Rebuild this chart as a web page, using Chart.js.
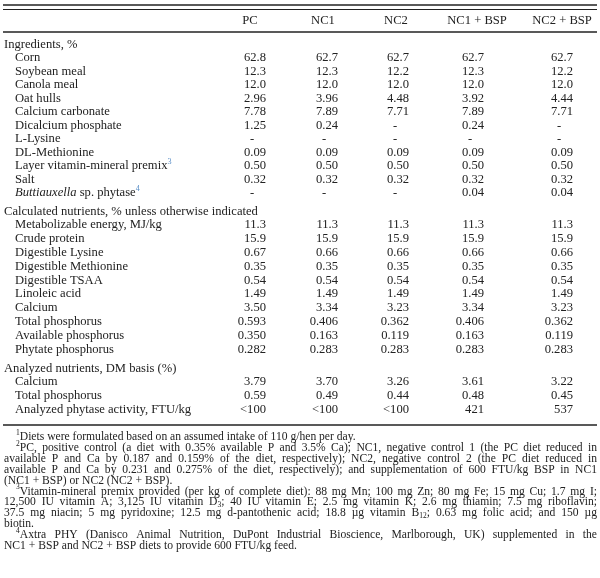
<!DOCTYPE html>
<html>
<head>
<meta charset="utf-8">
<script src="https://cdn.jsdelivr.net/npm/chart.js@4"></script>
<style>
  body { margin: 0; background: #fff; }
  #wrap { width: 600px; height: 578px; }
</style>
</head>
<body>
<div id="wrap"><canvas id="tabela"></canvas></div>
<script>
// colunas da tabela
const colunas = ['PC', 'NC1', 'NC2', 'NC1 + BSP', 'NC2 + BSP'];

// ingredientes, %
const ingredientes = ['Corn', 'Soybean meal', 'Canola meal', 'Oat hulls', 'Calcium carbonate', 'Dicalcium phosphate',
    'L-Lysine', 'DL-Methionine', 'Layer vitamin-mineral premix^{3}', 'Salt', '*Buttiauxella* sp. phytase^{4}'];
const valIngredientes = [
    ['62.8', '62.7', '62.7', '62.7', '62.7'],
    ['12.3', '12.3', '12.2', '12.3', '12.2'],
    ['12.0', '12.0', '12.0', '12.0', '12.0'],
    ['2.96', '3.96', '4.48', '3.92', '4.44'],
    ['7.78', '7.89', '7.71', '7.89', '7.71'],
    ['1.25', '0.24', '-', '0.24', '-'],
    ['-', '-', '-', '-', '-'],
    ['0.09', '0.09', '0.09', '0.09', '0.09'],
    ['0.50', '0.50', '0.50', '0.50', '0.50'],
    ['0.32', '0.32', '0.32', '0.32', '0.32'],
    ['-', '-', '-', '0.04', '0.04']
];

// nutrientes calculados
const calculados = ['Metabolizable energy, MJ/kg', 'Crude protein', 'Digestible Lysine', 'Digestible Methionine',
    'Digestible TSAA', 'Linoleic acid', 'Calcium', 'Total phosphorus', 'Available phosphorus', 'Phytate phosphorus'];
const valCalculados = [
    ['11.3', '11.3', '11.3', '11.3', '11.3'],
    ['15.9', '15.9', '15.9', '15.9', '15.9'],
    ['0.67', '0.66', '0.66', '0.66', '0.66'],
    ['0.35', '0.35', '0.35', '0.35', '0.35'],
    ['0.54', '0.54', '0.54', '0.54', '0.54'],
    ['1.49', '1.49', '1.49', '1.49', '1.49'],
    ['3.50', '3.34', '3.23', '3.34', '3.23'],
    ['0.593', '0.406', '0.362', '0.406', '0.362'],
    ['0.350', '0.163', '0.119', '0.163', '0.119'],
    ['0.282', '0.283', '0.283', '0.283', '0.283']
];

// nutrientes analisados
const analisados = ['Calcium', 'Total phosphorus', 'Analyzed phytase activity, FTU/kg'];
const valAnalisados = [
    ['3.79', '3.70', '3.26', '3.61', '3.22'],
    ['0.59', '0.49', '0.44', '0.48', '0.45'],
    ['<100', '<100', '<100', '421', '537']
];

// notas de rodape (cada paragrafo em linhas)
const notas = [
    ['^{1}Diets were formulated based on an assumed intake of 110 g/hen per day.'],
    ['^{2}PC, positive control (a diet with 0.35% available P and 3.5% Ca); NC1, negative control 1 (the PC diet reduced in',
     'available P and Ca by 0.187 and 0.159% of the diet, respectively); NC2, negative control 2 (the PC diet reduced in',
     'available P and Ca by 0.231 and 0.275% of the diet, respectively); and supplementation of 600 FTU/kg BSP in NC1',
     '(NC1 + BSP) or NC2 (NC2 + BSP).'],
    ['^{3}Vitamin-mineral premix provided (per kg of complete diet): 88 mg Mn; 100 mg Zn; 80 mg Fe; 15 mg Cu; 1.7 mg I;',
     '12,500 IU vitamin A; 3,125 IU vitamin D_{3}; 40 IU vitamin E; 2.5 mg vitamin K; 2.6 mg thiamin; 7.5 mg riboflavin;',
     '37.5 mg niacin; 5 mg pyridoxine; 12.5 mg d-pantothenic acid; 18.8 µg vitamin B_{12}; 0.63 mg folic acid; and 150 µg',
     'biotin.'],
    ['^{4}Axtra PHY (Danisco Animal Nutrition, DuPont Industrial Bioscience, Marlborough, UK) supplemented in the',
     'NC1 + BSP and NC2 + BSP diets to provide 600 FTU/kg feed.']
];

const FONTE = '"Liberation Serif", "DejaVu Serif", serif';
const TAM = 12.6;       // fonte da tabela
const TAM_NOTA = 11.6;  // fonte das notas
const centrosCab = [250, 323, 396, 477, 562];
const bordasVal = [266, 338, 409, 484, 573];

// quebra texto em pedacos: normal, *italico*, ^{sup}, _{sub}
function pedacos(txt) {
    const out = [];
    const re = /\^\{([^}]*)\}|_\{([^}]*)\}|\*([^*]*)\*|([^^_*]+)/g;
    let m;
    while ((m = re.exec(txt))) {
        if (m[1] != null) out.push({ t: m[1], tipo: 'sup' });
        else if (m[2] != null) out.push({ t: m[2], tipo: 'sub' });
        else if (m[3] != null) out.push({ t: m[3], tipo: 'it' });
        else out.push({ t: m[4], tipo: 'n' });
    }
    return out;
}

function fonte(tipo, tam) {
    if (tipo == 'sup' || tipo == 'sub') return (tam * 0.65) + 'px ' + FONTE;
    if (tipo == 'it') return 'italic ' + tam + 'px ' + FONTE;
    return tam + 'px ' + FONTE;
}

function larguraRica(ctx, txt, tam) {
    let w = 0;
    pedacos(txt).forEach(p => { ctx.font = fonte(p.tipo, tam); w += ctx.measureText(p.t).width; });
    return w;
}

function textoRico(ctx, txt, x, y, tam, cor) {
    pedacos(txt).forEach(p => {
        ctx.font = fonte(p.tipo, tam);
        ctx.fillStyle = (p.tipo == 'sup' && cor) ? cor : '#222';
        let dy = 0;
        if (p.tipo == 'sup') dy = -tam * 0.35;
        if (p.tipo == 'sub') dy = tam * 0.25;
        ctx.fillText(p.t, x, y + dy);
        x += ctx.measureText(p.t).width;
    });
    return x;
}

// linha justificada
function linhaJustificada(ctx, txt, x0, x1, y, tam, justificar) {
    const palavras = txt.split(' ');
    if (!justificar || palavras.length < 2) { textoRico(ctx, txt, x0, y, tam); return; }
    const larg = palavras.map(p => larguraRica(ctx, p, tam));
    const total = larg.reduce((a, b) => a + b, 0);
    const esp = (x1 - x0 - total) / (palavras.length - 1);
    let x = x0;
    palavras.forEach((p, i) => { textoRico(ctx, p, x, y, tam); x += larg[i] + esp; });
}

const pluginTabela = {
    id: 'tabela',
    afterDraw(chart) {
        const ctx = chart.ctx;
        ctx.save();
        ctx.textBaseline = 'middle';
        ctx.strokeStyle = '#222';

        function linha(y, esp) {
            ctx.lineWidth = esp;
            ctx.beginPath(); ctx.moveTo(3, y); ctx.lineTo(597, y); ctx.stroke();
        }
        linha(5, 1.6); linha(9.5, 1.2); linha(32, 1.6);

        ctx.fillStyle = '#222';
        ctx.font = TAM + 'px ' + FONTE;
        ctx.textAlign = 'center';
        colunas.forEach((c, i) => ctx.fillText(c, centrosCab[i], 21));

        function valores(vals, y) {
            vals.forEach((v, i) => {
                ctx.font = TAM + 'px ' + FONTE;
                ctx.fillStyle = '#222';
                if (v == '-') { ctx.textAlign = 'center'; ctx.fillText(v, bordasVal[i] - 14, y); }
                else { ctx.textAlign = 'right'; ctx.fillText(v, bordasVal[i], y); }
            });
            ctx.textAlign = 'left';
        }

        function secao(titulo, nomes, vals, y0, passo) {
            ctx.textAlign = 'left';
            textoRico(ctx, titulo, 4, y0, TAM);
            nomes.forEach((n, i) => {
                const y = y0 + 13 + i * passo;
                textoRico(ctx, n, 15, y, TAM, '#5b8fc7');
                valores(vals[i], y);
            });
        }
        secao('Ingredients, %', ingredientes, valIngredientes, 45, 13.5);
        secao('Calculated nutrients, % unless otherwise indicated', calculados, valCalculados, 212, 13.8);
        secao('Analyzed nutrients, DM basis (%)', analisados, valAnalisados, 369, 13.6);

        linha(425, 1.6);

        ctx.textAlign = 'left';
        let y = 437;
        notas.forEach(par => {
            par.forEach((l, i) => {
                const x0 = i == 0 ? 16 : 4;
                linhaJustificada(ctx, l, x0, 597, y, TAM_NOTA, i < par.length - 1);
                y += 10.9;
            });
        });
        ctx.restore();
    }
};

new Chart(document.getElementById('tabela'), {
    type: 'bar',
    data: { labels: [], datasets: [] },
    options: {
        responsive: true,
        maintainAspectRatio: false,
        animation: false,
        plugins: { legend: { display: false }, tooltip: { enabled: false } },
        scales: { x: { display: false }, y: { display: false } }
    },
    plugins: [pluginTabela]
});
</script>
</body>
</html>
